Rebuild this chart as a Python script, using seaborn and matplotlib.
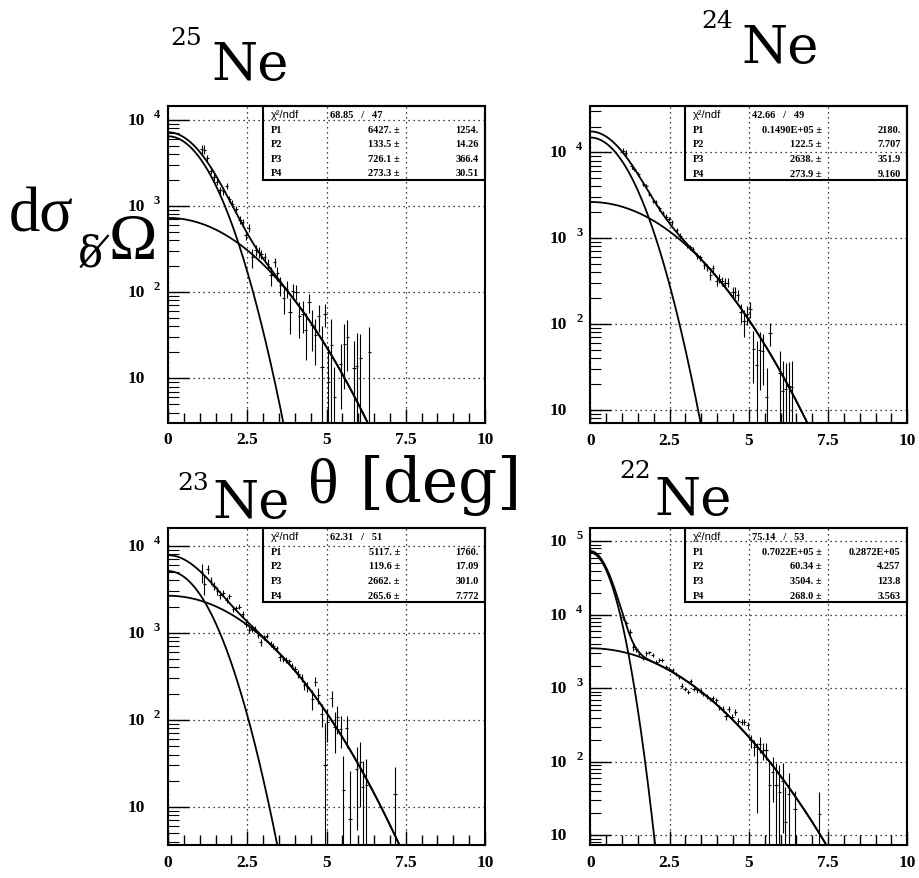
import numpy as np
import pandas as pd
import matplotlib
matplotlib.use("Agg")
import matplotlib.pyplot as plt
import matplotlib.transforms as mtransforms
from matplotlib.patches import Rectangle
from matplotlib.ticker import FixedLocator, LogLocator, NullFormatter, MultipleLocator
import seaborn as sns

# ---------------------------------------------------------------- data
ISOTOPES = [25, 24, 23, 22]

# 25Ne: scattering angle [deg], dsigma/dOmega, relative uncertainty
theta_25 = [1.06, 1.15, 1.24, 1.35, 1.45, 1.54, 1.64, 1.74, 1.85, 1.93,
            2.03, 2.15, 2.27, 2.36, 2.46, 2.55, 2.66, 2.77, 2.86, 2.94,
            3.05, 3.15, 3.25, 3.36, 3.45, 3.54, 3.65, 3.74, 3.85, 3.94,
            4.04, 4.14, 4.25, 4.34, 4.45, 4.54, 4.65, 4.75, 4.86, 4.95,
            5.05, 5.15, 5.25, 5.45, 5.56, 5.66, 5.87, 5.95, 6.06, 6.35]
xsec_25 = [4570, 4500, 3560, 2570, 2150, 1880, 1510, 1470, 1700, 1210,
           1060, 923, 690, 645, 460, 560, 255, 305, 290, 275,
           256, 213, 156, 225, 166, 120, 85, 110, 59, 104,
           100, 53, 56, 36.5, 76, 41, 31.6, 53, 13.5, 56,
           9.1, 24.5, 6.1, 14.8, 25, 30, 13, 14, 17, 20]
relerr_25 = [0.12, 0.12, 0.10, 0.09, 0.09, 0.08, 0.09, 0.09, 0.08, 0.09,
             0.09, 0.09, 0.10, 0.10, 0.12, 0.10, 0.25, 0.15, 0.15, 0.12,
             0.12, 0.15, 0.25, 0.12, 0.18, 0.25, 0.35, 0.22, 0.45, 0.20,
             0.20, 0.45, 0.40, 0.55, 0.25, 0.50, 0.55, 0.35, 2.0, 0.30,
             1.6, 1.0, 1.2, 0.7, 0.7, 0.6, 1.1, 1.4, 0.9, 0.95]

# 24Ne
theta_24 = [1.04, 1.12, 1.31, 1.38, 1.51, 1.67, 1.76, 1.86, 1.99, 2.06,
            2.17, 2.28, 2.39, 2.48, 2.57, 2.72, 2.83, 2.93, 3.04, 3.15,
            3.23, 3.38, 3.46, 3.60, 3.69, 3.78, 3.86, 3.99, 4.07, 4.16,
            4.25, 4.33, 4.49, 4.56, 4.65, 4.75, 4.85, 4.95, 5.04, 5.14,
            5.25, 5.35, 5.44, 5.56, 5.67, 5.98, 6.07, 6.16, 6.27, 6.35]
xsec_24 = [10400, 9800, 6870, 6400, 5580, 4270, 4080, 3260, 2720, 2610,
           2230, 1960, 1780, 1670, 1520, 1250, 1070, 935, 830, 780,
           745, 620, 595, 485, 457, 373, 445, 316, 336, 316,
           303, 303, 233, 233, 215, 136, 108, 129, 149, 51,
           33, 49, 48, 13.9, 79, 27, 16.6, 17.4, 19, 18.3]
relerr_24 = [0.08, 0.08, 0.07, 0.06, 0.06, 0.06, 0.06, 0.06, 0.06, 0.06,
             0.06, 0.06, 0.06, 0.06, 0.06, 0.06, 0.07, 0.07, 0.07, 0.07,
             0.07, 0.08, 0.08, 0.09, 0.09, 0.12, 0.10, 0.12, 0.12, 0.12,
             0.12, 0.12, 0.15, 0.15, 0.15, 0.25, 0.35, 0.25, 0.22, 0.60,
             0.90, 0.65, 0.60, 1.2, 0.30, 0.80, 1.2, 1.0, 0.9, 1.0]

# 23Ne
theta_23 = [1.06, 1.15, 1.25, 1.35, 1.45, 1.56, 1.64, 1.74, 1.85, 1.93,
            2.06, 2.15, 2.25, 2.36, 2.46, 2.56, 2.64, 2.74, 2.85, 2.93,
            3.03, 3.11, 3.24, 3.32, 3.43, 3.53, 3.64, 3.72, 3.82, 3.90,
            4.01, 4.11, 4.22, 4.30, 4.39, 4.55, 4.64, 4.74, 4.85, 4.95,
            5.03, 5.16, 5.27, 5.34, 5.45, 5.53, 5.64, 5.74, 5.95, 6.06,
            6.14, 6.25, 7.16]
xsec_23 = [4950, 3640, 5400, 3970, 3480, 3040, 2720, 2840, 2400, 2630,
           1880, 1910, 1990, 1650, 1260, 1080, 1110, 1110, 945, 780,
           890, 930, 745, 705, 665, 525, 500, 490, 468, 420,
           385, 336, 303, 252, 240, 174, 275, 191, 117, 30.5,
           94, 178, 83, 107, 79, 15.5, 80, 7.3, 27, 33,
           17, 17.8, 14.2]
relerr_23 = [0.25, 0.25, 0.12, 0.10, 0.10, 0.10, 0.10, 0.08, 0.08, 0.07,
             0.08, 0.07, 0.07, 0.07, 0.08, 0.08, 0.07, 0.07, 0.07, 0.10,
             0.07, 0.07, 0.07, 0.07, 0.07, 0.09, 0.08, 0.08, 0.08, 0.08,
             0.09, 0.10, 0.10, 0.12, 0.12, 0.25, 0.12, 0.20, 0.30, 2.0,
             0.40, 0.20, 0.50, 0.35, 0.40, 1.5, 0.40, 2.5, 0.80, 0.70,
             1.0, 1.0, 1.0]

# 22Ne
theta_22 = [1.02, 1.13, 1.25, 1.36, 1.44, 1.55, 1.65, 1.76, 1.86, 1.97,
            2.07, 2.18, 2.26, 2.39, 2.49, 2.60, 2.70, 2.81, 2.88, 2.99,
            3.09, 3.17, 3.27, 3.38, 3.48, 3.56, 3.67, 3.78, 3.86, 3.97,
            4.07, 4.18, 4.28, 4.37, 4.47, 4.57, 4.67, 4.78, 4.86, 4.96,
            5.07, 5.17, 5.25, 5.35, 5.46, 5.54, 5.65, 5.75, 5.86, 5.96,
            6.07, 6.15, 6.26, 6.46, 7.22]
xsec_22 = [9300, 7740, 5900, 3630, 3390, 2960, 2590, 3000, 3080, 2850,
           2270, 2450, 2400, 1950, 1840, 1800, 1580, 1420, 1090, 980,
           890, 1270, 980, 935, 900, 840, 780, 720, 733, 685,
           555, 525, 417, 525, 407, 478, 363, 347, 347, 313,
           195, 158, 100, 176, 143, 143, 48, 72, 48, 39,
           54, 15, 37, 22.6, 19.7]
relerr_22 = [0.08, 0.08, 0.08, 0.10, 0.08, 0.07, 0.07, 0.07, 0.06, 0.06,
             0.06, 0.06, 0.06, 0.06, 0.06, 0.06, 0.06, 0.06, 0.07, 0.07,
             0.07, 0.06, 0.07, 0.07, 0.07, 0.07, 0.07, 0.07, 0.07, 0.07,
             0.08, 0.08, 0.10, 0.08, 0.10, 0.09, 0.10, 0.10, 0.10, 0.10,
             0.20, 0.25, 0.80, 0.25, 0.25, 0.25, 1.2, 0.60, 1.0, 1.3,
             0.80, 2.0, 0.90, 0.80, 1.0]

# two-Gaussian fit results: P1, P2 (narrow), P3, P4 (wide)
fit_25 = [6427., 133.5, 726.1, 273.3]
fit_err_25 = [1254., 14.26, 366.4, 30.51]
fit_24 = [14900., 122.5, 2638., 273.9]
fit_err_24 = [2180., 7.707, 351.9, 9.160]
fit_23 = [5117., 119.6, 2662., 265.6]
fit_err_23 = [1760., 17.09, 301.0, 7.772]
fit_22 = [70220., 60.34, 3504., 268.0]
fit_err_22 = [28720., 4.257, 123.8, 3.563]

chi2_ndf_25 = (68.85, 47)
chi2_ndf_24 = (42.66, 49)
chi2_ndf_23 = (62.31, 51)
chi2_ndf_22 = (75.14, 53)

# transverse momentum per nucleon per degree of scattering angle [MeV/c]
PT_PER_NUCLEON_DEG = 4.06

DATA = {
    25: (theta_25, xsec_25, relerr_25, fit_25, fit_err_25, chi2_ndf_25),
    24: (theta_24, xsec_24, relerr_24, fit_24, fit_err_24, chi2_ndf_24),
    23: (theta_23, xsec_23, relerr_23, fit_23, fit_err_23, chi2_ndf_23),
    22: (theta_22, xsec_22, relerr_22, fit_22, fit_err_22, chi2_ndf_22),
}

# ---------------------------------------------------------------- layout
W, H = 919, 879
PANEL_PX = {25: (168.0, 107.0), 24: (590.3, 107.3), 23: (168.0, 529.3), 22: (590.3, 529.3)}
PANEL_SIZE = 317.0
YLIMS = {25: (3.03, 14420), 24: (6.92, 34430), 23: (3.63, 15830), 22: (7.31, 150200)}

SERIF = "Liberation Serif"
SLAB = "DejaVu Serif"
SANS = "Liberation Sans"

sns.set_style("white", {"axes.edgecolor": "black"})
plt.rcParams["font.family"] = [SERIF, "DejaVu Sans"]
plt.rcParams["text.color"] = "black"
plt.rcParams["xtick.color"] = "black"
plt.rcParams["ytick.color"] = "black"

fig = plt.figure(figsize=(W / 100, H / 100), dpi=100)


def ftext(x, y, s, **kw):
    """Figure text placed in pixel coordinates measured from the top-left."""
    return fig.text(x / W, 1 - y / H, s, **kw)


def fmt_par(v):
    """PAW-style four-digit number formatting."""
    if v >= 1e4:
        e = int(np.floor(np.log10(v))) + 1
        return f"{v / 10 ** e:.4f}E+{e:02d}"
    if v >= 1000:
        return f"{int(round(v))}."
    if v >= 100:
        return f"{v:.1f}"
    if v >= 10:
        return f"{v:.2f}"
    return f"{v:.3f}"


def gauss(theta, amp, width, mass):
    pt = mass * PT_PER_NUCLEON_DEG * theta
    return amp * np.exp(-(pt / width) ** 2)


for A in ISOTOPES:
    theta, xsec, rel, fit, fit_err, (chi2, ndf) = DATA[A]
    left, top = PANEL_PX[A]
    ax = fig.add_axes([left / W, 1 - (top + PANEL_SIZE) / H, PANEL_SIZE / W, PANEL_SIZE / H])
    ax.set_yscale("log")
    ax.set_xlim(0, 10)
    ax.set_ylim(*YLIMS[A])

    # fitted components and their sum
    grid = np.linspace(0, 10, 801)
    narrow = gauss(grid, fit[0], fit[1], A)
    wide = gauss(grid, fit[2], fit[3], A)
    curves = pd.DataFrame({"theta": grid, "narrow": narrow, "wide": wide,
                           "total": narrow + wide})
    for comp in ["narrow", "wide", "total"]:
        sub = curves[curves[comp] > 0.3]
        sns.lineplot(data=sub, x="theta", y=comp, ax=ax, color="black",
                     linewidth=1.3, estimator=None, sort=False, legend=False)

    # measured points
    x = np.asarray(theta)
    y = np.asarray(xsec, dtype=float)
    err = y * np.asarray(rel)
    lower = np.minimum(err, y * 0.9999)
    ax.errorbar(x, y, yerr=[lower, err], xerr=0.05, fmt="none",
                ecolor="black", elinewidth=0.8, capsize=0, zorder=3)

    ax.set_xlabel("")
    ax.set_ylabel("")

    # axes decoration
    for sp in ax.spines.values():
        sp.set_linewidth(1.5)
        sp.set_color("black")
    ax.xaxis.set_major_locator(FixedLocator([0, 2.5, 5, 7.5, 10]))
    ax.xaxis.set_minor_locator(MultipleLocator(0.5))
    ax.set_xticklabels(["0", "2.5", "5", "7.5", "10"], fontfamily=SERIF,
                       fontweight="bold", fontsize=12.5)
    lo, hi = YLIMS[A]
    decades = [10 ** k for k in range(1, 7) if lo <= 10 ** k <= hi]
    ax.yaxis.set_major_locator(FixedLocator(decades))
    ax.yaxis.set_minor_locator(LogLocator(base=10, subs=np.arange(2, 10)))
    ax.yaxis.set_minor_formatter(NullFormatter())
    ax.set_yticklabels([])
    ax.tick_params(axis="x", which="major", direction="in", length=10, width=1,
                   bottom=True, top=False, pad=6)
    ax.tick_params(axis="x", which="minor", direction="in", length=7, width=1,
                   bottom=True, top=False)
    ax.tick_params(axis="y", which="major", direction="in", length=15, width=1,
                   left=True, right=False, labelleft=False)
    ax.tick_params(axis="y", which="minor", direction="in", length=8, width=0.8,
                   left=True, right=False)
    ax.grid(True, which="major", color="black", linestyle=(0, (1, 3)), linewidth=0.9)

    # decade labels: "10" with a raised exponent
    ytrans = ax.get_yaxis_transform()
    sup_trans = mtransforms.offset_copy(ytrans, fig=fig, x=0, y=6, units="dots")
    for d in decades:
        k = int(round(np.log10(d)))
        ax.text(-23 / PANEL_SIZE, d, "10", transform=ytrans, ha="right", va="center",
                fontfamily=SERIF, fontweight="bold", fontsize=12.5, clip_on=False)
        if k > 1:
            ax.text(-8 / PANEL_SIZE, d, str(k), transform=sup_trans, ha="right",
                    va="center", fontfamily=SERIF, fontweight="bold", fontsize=9,
                    clip_on=False)

    # fit statistics box
    bx0, bh = 0.30, 74.0 / PANEL_SIZE
    ax.add_patch(Rectangle((bx0, 1 - bh), 1 - bx0, bh, transform=ax.transAxes,
                           fill=False, edgecolor="black", linewidth=1.5,
                           clip_on=False, zorder=5))
    rows = [8.0, 23.7, 37.3, 52.0, 67.0]
    col_lab = bx0 + 7.4 / PANEL_SIZE
    col_chi = bx0 + 66.7 / PANEL_SIZE
    col_val = bx0 + 136.7 / PANEL_SIZE
    col_err = 1 - 6.6 / PANEL_SIZE
    bold = dict(fontfamily=SERIF, fontweight="bold", fontsize=7.5,
                transform=ax.transAxes, va="center", zorder=6)
    ax.text(col_lab, 1 - rows[0] / PANEL_SIZE, "χ²/ndf", fontfamily=SANS,
            fontsize=8, transform=ax.transAxes, va="center", zorder=6)
    ax.text(col_chi, 1 - rows[0] / PANEL_SIZE, f"{chi2:.2f}   /   {ndf}",
            ha="left", **bold)
    for i in range(4):
        yy = 1 - rows[i + 1] / PANEL_SIZE
        ax.text(col_lab, yy, f"P{i + 1}", ha="left", **bold)
        ax.text(col_val, yy, f"{fmt_par(fit[i])} ±", ha="right", **bold)
        ax.text(col_err, yy, fmt_par(fit_err[i]), ha="right", **bold)

# ---------------------------------------------------------------- titles
TITLE_PX = {25: ((170, 45), (211, 80)), 24: ((701, 28), (741, 63)),
            23: ((177, 490), (212, 518)), 22: ((619, 478), (654, 515))}
for A in ISOTOPES:
    (sx, sy), (nx, ny) = TITLE_PX[A]
    ftext(sx, sy, str(A), fontfamily=SLAB, fontsize=18, ha="left", va="baseline")
    ftext(nx, ny, "Ne", fontfamily=SLAB, fontsize=38, ha="left", va="baseline")

# axis titles
ftext(308, 503, "θ", fontfamily=SERIF, fontsize=46, ha="left", va="baseline")
ftext(441, 502, "[deg]", fontfamily=SLAB, fontsize=44, ha="center", va="baseline")

ftext(9, 232, "dσ", fontfamily=SERIF, fontsize=45, ha="left", va="baseline")
ftext(78, 267, "δ\u2009\u0338", fontfamily=SLAB, fontsize=30, ha="left", va="baseline")
ftext(109, 259, "Ω", fontfamily=SERIF, fontsize=47, ha="left", va="baseline")

fig.savefig("out.png", dpi=100)
